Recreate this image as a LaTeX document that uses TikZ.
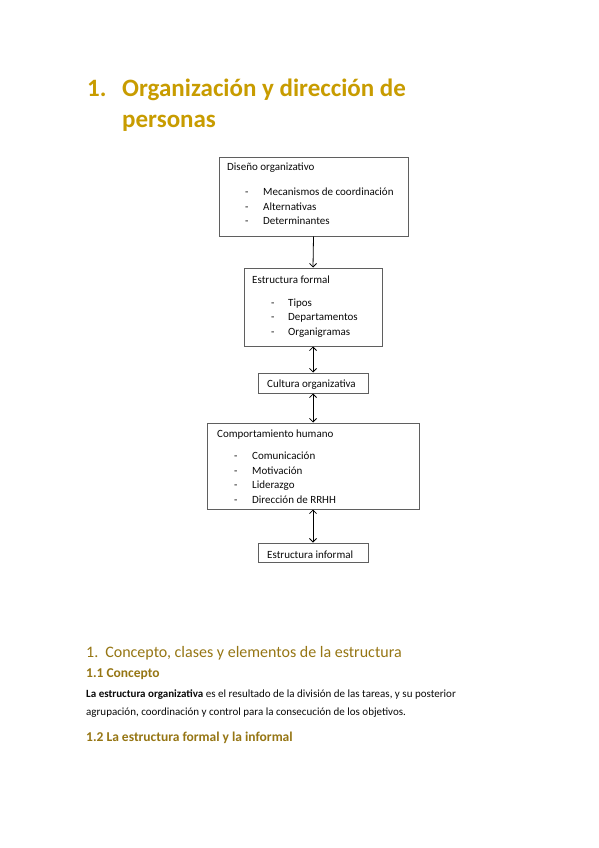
\documentclass[tikz,border=0pt]{standalone}
\usepackage{fontspec}
\setmainfont{Carlito}
\usetikzlibrary{arrows.meta}
\definecolor{titlegold}{RGB}{200,156,0}
\definecolor{headgold}{RGB}{150,118,20}
\definecolor{boxline}{RGB}{95,95,95}
\definecolor{bodytext}{RGB}{10,10,10}
\begin{document}
\begin{tikzpicture}[x=1pt,y=-1pt,
  box/.style={draw=boxline, line width=1pt, fill=white, inner sep=0pt},
  txt/.style={anchor=base west, inner sep=0pt, text=bodytext, font=\fontsize{11}{13}\selectfont},
  item/.style={txt},
  titletxt/.style={anchor=base west, inner sep=0pt, text=titlegold, font=\fontsize{25}{30}\selectfont\bfseries},
  headtxt/.style={anchor=base west, inner sep=0pt, text=headgold, font=\fontsize{16}{19}\selectfont},
  subtxt/.style={anchor=base west, inner sep=0pt, text=headgold, font=\fontsize{13.5}{16}\selectfont\bfseries},
  arr/.style={draw=black, line width=0.8pt, -{Straight Barb[length=3.5pt,width=7pt]}},
  darr/.style={draw=black, line width=0.8pt, {Straight Barb[length=3.5pt,width=7pt]}-{Straight Barb[length=3.5pt,width=7pt]}}
]
\useasboundingbox[fill=white] (0,0) rectangle (599,848);

% title
\node[titletxt] (tnum) at (87,97) {1.};
\node[titletxt] (t1) at (122,97) {Organización y dirección de};
\node[titletxt] (t2) at (122,128) {personas};

% boxes
\node[box, minimum width=189pt, minimum height=79pt] (b1) at (313.5,196.5) {};
\node[box, minimum width=138pt, minimum height=78pt] (b2) at (313,307) {};
\node[box, minimum width=110pt, minimum height=20pt] (b3) at (313,383) {};
\node[box, minimum width=212pt, minimum height=86pt] (b4) at (313,466) {};
\node[box, minimum width=110pt, minimum height=19pt] (b5) at (313,552.5) {};

% box 1 text
\node[txt] (b1h) at (227,170.5) {Diseño organizativo};
\node[item] (b1i1) at (245,195.5) {\makebox[18pt][l]{-}Mecanismos de coordinación};
\node[item] (b1i2) at (245,210.5) {\makebox[18pt][l]{-}Alternativas};
\node[item] (b1i3) at (245,224.5) {\makebox[18pt][l]{-}Determinantes};

% box 2 text
\node[txt] (b2h) at (252,283.5) {Estructura formal};
\node[item] (b2i1) at (271,306.5) {\makebox[17pt][l]{-}Tipos};
\node[item] (b2i2) at (271,320.5) {\makebox[17pt][l]{-}Departamentos};
\node[item] (b2i3) at (271,335.5) {\makebox[17pt][l]{-}Organigramas};

% box 3 text
\node[txt] (b3t) at (267,387.5) {Cultura organizativa};

% box 4 text
\node[txt] (b4h) at (217,437.5) {Comportamiento humano};
\node[item] (b4i1) at (234,459.5) {\makebox[18pt][l]{-}Comunicación};
\node[item] (b4i2) at (234,474.5) {\makebox[18pt][l]{-}Motivación};
\node[item] (b4i3) at (234,488.5) {\makebox[18pt][l]{-}Liderazgo};
\node[item] (b4i4) at (234,503.5) {\makebox[18pt][l]{-}Dirección de RRHH};

% box 5 text
\node[txt] (b5t) at (267,558.5) {Estructura informal};

% connectors
\draw[arr] (b1.south) -- (b2.north);
\draw[darr] (b2.south) -- (b3.north);
\draw[darr] (b3.south) -- (b4.north);
\draw[darr] (b4.south) -- (b5.north);

% lower text
\node[headtxt] (h1) at (86,657) {1.\hspace{7pt}Concepto, clases y elementos de la estructura};
\node[subtxt] (h11) at (86,677) {1.1 Concepto};
\node[txt] (p1) at (86,697.5) {\textbf{La estructura organizativa} es el resultado de la división de las tareas, y su posterior};
\node[txt] (p2) at (86,715.5) {agrupación, coordinación y control para la consecución de los objetivos.};
\node[subtxt] (h12) at (86,741.5) {1.2 La estructura formal y la informal};
\end{tikzpicture}
\end{document}
